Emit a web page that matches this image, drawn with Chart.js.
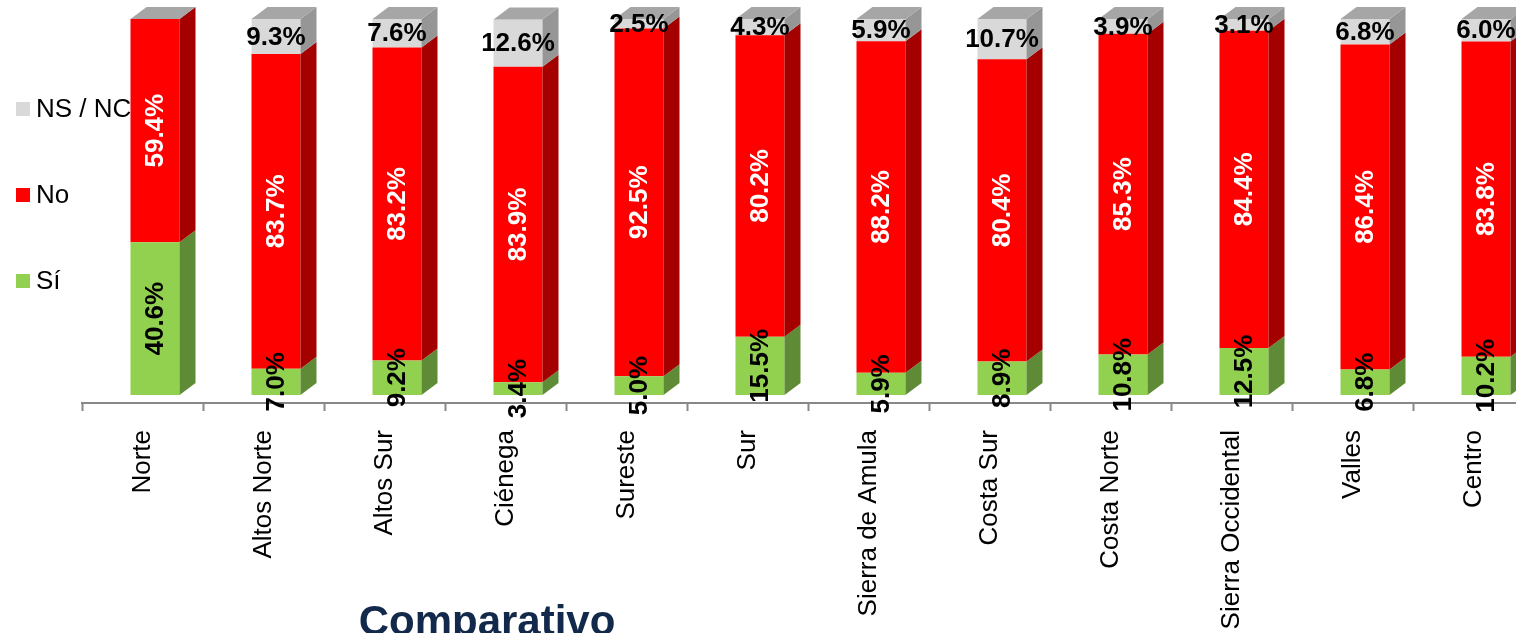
<!DOCTYPE html>
<html>
<head>
<meta charset="utf-8">
<script src="https://cdn.jsdelivr.net/npm/chart.js@4.4.1/dist/chart.umd.min.js"></script>
<style>
  html, body { margin: 0; padding: 0; overflow: hidden; background: #fff; }
  #wrap { width: 1540px; height: 633px; }
</style>
</head>
<body>
<div id="wrap"><canvas id="chart" width="1540" height="633"></canvas></div>
<script>
const regiones = ['Norte', 'Altos Norte', 'Altos Sur', 'Ciénega', 'Sureste', 'Sur',
    'Sierra de Amula', 'Costa Sur', 'Costa Norte', 'Sierra Occidental', 'Valles', 'Centro']
const si = [40.6, 7.0, 9.2, 3.4, 5.0, 15.5, 5.9, 8.9, 10.8, 12.5, 6.8, 10.2]
const no = [59.4, 83.7, 83.2, 83.9, 92.5, 80.2, 88.2, 80.4, 85.3, 84.4, 86.4, 83.8]
const nsnc = [0, 9.3, 7.6, 12.6, 2.5, 4.3, 5.9, 10.7, 3.9, 3.1, 6.8, 6.0]

// 3d look: the front faces are pushed right/up, then side + top faces added
const SHIFT_X = 12.5
const SHIFT_Y = -8
const DEPTH_X = 16
const DEPTH_Y = 12

const fmt = v => v.toFixed(1) + '%'

const bar3d = {
    id: 'bar3d',
    beforeDatasetsDraw(chart) {
        const ctx = chart.ctx
        // legend (drawn first so the bars cover it, like the original)
        const legendRows = [
            { ds: 2, y: 109 },
            { ds: 1, y: 195 },
            { ds: 0, y: 281 }
        ]
        ctx.save()
        ctx.font = '26px "Liberation Sans", Arial, sans-serif'
        ctx.textBaseline = 'middle'
        ctx.textAlign = 'left'
        legendRows.forEach(r => {
            const d = chart.data.datasets[r.ds]
            ctx.fillStyle = d.backgroundColor
            ctx.fillRect(16, r.y - 7, 14, 14)
            ctx.fillStyle = '#000'
            ctx.fillText(d.label, 36, r.y + 1)
        })
        ctx.restore()

        ctx.save()
        ctx.translate(SHIFT_X, SHIFT_Y)
    },
    afterDatasetsDraw(chart) {
        const ctx = chart.ctx
        const n = chart.data.datasets.length

        chart.data.datasets.forEach((d, i) => {
            const meta = chart.getDatasetMeta(i)
            meta.data.forEach(el => {
                const p = el.getProps(['x', 'y', 'base', 'width'], true)
                const left = p.x - p.width / 2
                const right = p.x + p.width / 2
                // side face
                ctx.fillStyle = d.sideColor
                ctx.beginPath()
                ctx.moveTo(right, p.y)
                ctx.lineTo(right + DEPTH_X, p.y - DEPTH_Y)
                ctx.lineTo(right + DEPTH_X, p.base - DEPTH_Y)
                ctx.lineTo(right, p.base)
                ctx.closePath()
                ctx.fill()
                // top face on the last segment of the stack
                if (i === n - 1) {
                    ctx.fillStyle = d.topColor
                    ctx.beginPath()
                    ctx.moveTo(left, p.y)
                    ctx.lineTo(left + DEPTH_X, p.y - DEPTH_Y)
                    ctx.lineTo(right + DEPTH_X, p.y - DEPTH_Y)
                    ctx.lineTo(right, p.y)
                    ctx.closePath()
                    ctx.fill()
                }
            })
        })

        // value labels
        ctx.font = 'bold 26px "Liberation Sans", Arial, sans-serif'
        ctx.textAlign = 'center'
        ctx.textBaseline = 'middle'
        chart.data.datasets.forEach((d, i) => {
            const meta = chart.getDatasetMeta(i)
            meta.data.forEach((el, j) => {
                const v = d.data[j]
                if (!v) return
                const p = el.getProps(['x', 'y', 'base'], true)
                const cy = (p.y + p.base) / 2
                ctx.fillStyle = d.labelColor
                if (d.labelRotated) {
                    ctx.save()
                    ctx.translate(p.x, cy)
                    ctx.rotate(-Math.PI / 2)
                    ctx.fillText(fmt(v), 0, 1)
                    ctx.restore()
                } else {
                    ctx.fillText(fmt(v), p.x, cy + 1)
                }
            })
        })

        ctx.restore()
    },
    afterDraw(chart) {
        const ctx = chart.ctx
        ctx.save()
        ctx.font = 'bold 42px "Liberation Sans", Arial, sans-serif'
        ctx.fillStyle = '#13294b'
        ctx.textAlign = 'center'
        ctx.textBaseline = 'alphabetic'
        ctx.fillText('Comparativo', 487, 635)
        ctx.restore()
    }
}

const ctx = document.getElementById('chart').getContext('2d')

new Chart(ctx, {
    type: 'bar',
    data: {
        labels: regiones,
        datasets: [
            {
                label: 'Sí',
                data: si,
                backgroundColor: '#92d050',
                sideColor: '#5f8a36',
                labelColor: '#000',
                labelRotated: true
            },
            {
                label: 'No',
                data: no,
                backgroundColor: '#ff0000',
                sideColor: '#a50000',
                labelColor: '#fff',
                labelRotated: true
            },
            {
                label: 'NS / NC',
                data: nsnc,
                backgroundColor: '#d9d9d9',
                sideColor: '#969696',
                topColor: '#a6a6a6',
                labelColor: '#000',
                labelRotated: false
            }
        ]
    },
    options: {
        responsive: false,
        animation: false,
        devicePixelRatio: 1,
        layout: {
            padding: { left: 82, right: 6, top: 27, bottom: 0 }
        },
        datasets: {
            bar: {
                categoryPercentage: 1,
                barPercentage: 0.405,
                borderWidth: 0
            }
        },
        plugins: {
            legend: { display: false },
            tooltip: { enabled: false }
        },
        scales: {
            x: {
                stacked: true,
                offset: true,
                border: { color: '#888888', width: 2 },
                grid: {
                    offset: true,
                    drawOnChartArea: false,
                    drawTicks: true,
                    tickLength: 8,
                    tickWidth: 2,
                    color: '#888888'
                },
                ticks: {
                    autoSkip: false,
                    minRotation: 90,
                    maxRotation: 90,
                    padding: 19,
                    color: '#000',
                    font: { family: '"Liberation Sans", Arial, sans-serif', size: 26 }
                },
                afterFit(scale) {
                    scale.height = 230
                }
            },
            y: {
                stacked: true,
                display: false,
                min: 0,
                max: 100
            }
        }
    },
    plugins: [bar3d]
})
</script>
</body>
</html>
